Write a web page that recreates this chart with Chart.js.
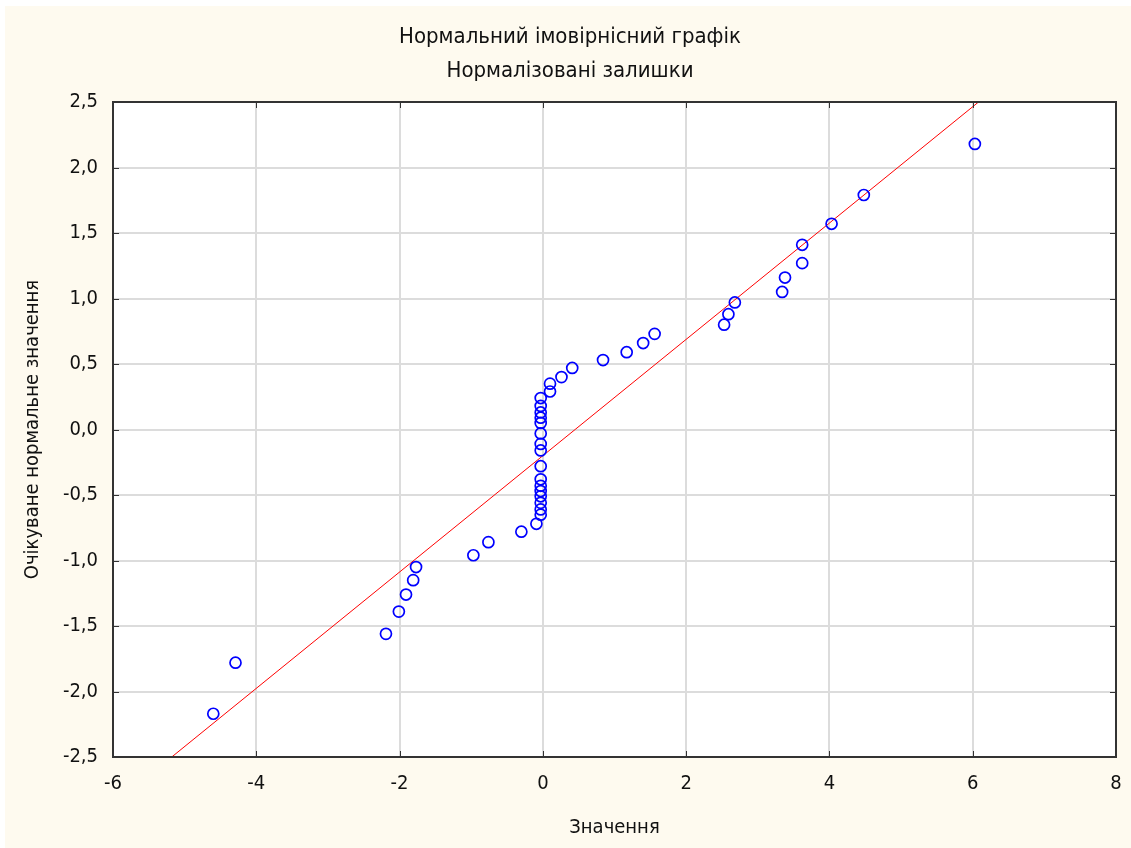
<!DOCTYPE html>
<html>
<head>
<meta charset="utf-8">
<title>Нормальний імовірнісний графік</title>
<script src="https://cdn.jsdelivr.net/npm/chart.js@4"></script>
<style>
    html, body { margin: 0; padding: 0; background: #ffffff; }
    canvas { display: block; }
</style>
</head>
<body>
<canvas id="chart" width="1131" height="848"></canvas>
<script>
// Data
const titleLines = ['Нормальний імовірнісний графік', 'Нормалізовані залишки'];
const xAxisTitle = 'Значення';
const yAxisTitle = 'Очікуване нормальне значення';

// Residual values (x) and expected normal values (y)
const residuals = [
    -4.60, -4.29, -2.19, -2.01, -1.91, -1.81, -1.77, -0.97, -0.76, -0.30, -0.09,
    -0.03, -0.03, -0.03, -0.03, -0.03, -0.03, -0.03, -0.03,
    -0.03, -0.03, -0.03, -0.03, -0.03, -0.03, -0.03, -0.03,
    0.10, 0.10, 0.26, 0.41, 0.84, 1.17, 1.40, 1.56, 2.53, 2.59, 2.68,
    3.34, 3.38, 3.62, 3.62, 4.03, 4.48, 6.03
];
const expectedNormal = [
    -2.17, -1.78, -1.56, -1.39, -1.26, -1.15, -1.05, -0.96, -0.86, -0.78, -0.72,
    -0.65, -0.61, -0.56, -0.51, -0.47, -0.43, -0.38, -0.28,
    -0.16, -0.11, -0.03, 0.05, 0.09, 0.13, 0.18, 0.24,
    0.29, 0.35, 0.40, 0.47, 0.53, 0.59, 0.66, 0.73, 0.80, 0.88, 0.97,
    1.05, 1.16, 1.27, 1.41, 1.57, 1.79, 2.18
];

// Reference line y = slope * x + intercept
const fitSlope = 0.444;
const fitIntercept = -0.20;

// Axis ranges
const xMin = -6, xMax = 8, xStep = 2;
const yMin = -2.5, yMax = 2.5, yStep = 0.5;

const fontFamily = "'Liberation Sans Narrow', 'DejaVu Sans Condensed', 'Liberation Sans', Arial, sans-serif";

// Format number with comma decimal
function formatComma(value, digits) {
    return value.toFixed(digits).replace('.', ',');
}

// Build point and line data
const points = residuals.map((x, i) => ({ x: x, y: expectedNormal[i] }));
const fitLine = [
    { x: (yMin - fitIntercept) / fitSlope, y: yMin },
    { x: (yMax - fitIntercept) / fitSlope, y: yMax }
];

// Background, frame, inward ticks and titles
const decorPlugin = {
    id: 'decor',
    beforeDraw(chart) {
        const ctx = chart.ctx;
        const area = chart.chartArea;
        ctx.save();
        ctx.fillStyle = '#ffffff';
        ctx.fillRect(0, 0, chart.width, chart.height);
        ctx.fillStyle = '#fefaef';
        ctx.fillRect(5, 6, chart.width - 5, chart.height - 6);
        ctx.fillStyle = '#ffffff';
        ctx.fillRect(area.left, area.top, area.right - area.left, area.bottom - area.top);
        ctx.restore();
    },
    afterDatasetsDraw(chart) {
        const ctx = chart.ctx;
        const area = chart.chartArea;
        const xs = chart.scales.x;
        const ys = chart.scales.y;
        ctx.save();
        ctx.strokeStyle = '#333333';
        ctx.lineWidth = 1;
        ctx.beginPath();
        xs.ticks.forEach(t => {
            const px = Math.round(xs.getPixelForValue(t.value)) + 0.5;
            ctx.moveTo(px, area.bottom);
            ctx.lineTo(px, area.bottom - 6);
            ctx.moveTo(px, area.top);
            ctx.lineTo(px, area.top + 6);
        });
        ys.ticks.forEach(t => {
            const py = Math.round(ys.getPixelForValue(t.value)) + 0.5;
            ctx.moveTo(area.left, py);
            ctx.lineTo(area.left + 6, py);
            ctx.moveTo(area.right, py);
            ctx.lineTo(area.right - 6, py);
        });
        ctx.stroke();
        ctx.lineWidth = 2;
        ctx.strokeRect(area.left, area.top, area.right - area.left, area.bottom - area.top);

        // Chart titles
        ctx.fillStyle = '#111111';
        ctx.font = '22px ' + fontFamily;
        ctx.textAlign = 'center';
        ctx.textBaseline = 'alphabetic';
        ctx.fillText(titleLines[0], 570, 43);
        ctx.fillText(titleLines[1], 570, 77);
        ctx.restore();
    }
};

const ctx = document.getElementById('chart').getContext('2d');
new Chart(ctx, {
    type: 'scatter',
    data: {
        datasets: [
            {
                label: 'Залишки',
                data: points,
                showLine: false,
                pointStyle: 'circle',
                pointRadius: 5.5,
                pointBorderWidth: 1.7,
                borderColor: '#0000ff',
                backgroundColor: 'rgba(0,0,0,0)',
                pointBackgroundColor: 'rgba(0,0,0,0)'
            },
            {
                label: 'Лінія',
                type: 'line',
                data: fitLine,
                borderColor: '#ff0000',
                borderWidth: 1,
                pointRadius: 0,
                fill: false,
                clip: 0
            }
        ]
    },
    options: {
        responsive: false,
        animation: false,
        devicePixelRatio: 1,
        layout: {
            padding: { top: 102, left: 0, right: 15, bottom: 0 }
        },
        plugins: {
            legend: { display: false },
            tooltip: { enabled: false },
            title: { display: false }
        },
        scales: {
            x: {
                type: 'linear',
                min: xMin,
                max: xMax,
                afterFit: function(scale) {
                    scale.height = 91;
                    scale.paddingRight = 0;
                    scale.paddingLeft = 0;
                },
                ticks: {
                    stepSize: xStep,
                    padding: 15,
                    color: '#111111',
                    font: { family: fontFamily, size: 20 },
                    callback: function(value) { return String(value); }
                },
                grid: { color: '#dcdcdc', lineWidth: 2, drawTicks: false },
                border: { display: false },
                title: {
                    display: true,
                    text: xAxisTitle,
                    color: '#111111',
                    font: { family: fontFamily, size: 20 },
                    padding: { top: 0, bottom: 8 }
                }
            },
            y: {
                type: 'linear',
                min: yMin,
                max: yMax,
                afterFit: function(scale) { scale.width = 113; },
                ticks: {
                    stepSize: yStep,
                    padding: 15,
                    color: '#111111',
                    font: { family: fontFamily, size: 20 },
                    callback: function(value) { return formatComma(value, 1); }
                },
                grid: { color: '#dcdcdc', lineWidth: 2, drawTicks: false },
                border: { display: false },
                title: {
                    display: true,
                    text: yAxisTitle,
                    color: '#111111',
                    font: { family: fontFamily, size: 20 },
                    padding: { top: 21, bottom: 0 }
                }
            }
        }
    },
    plugins: [decorPlugin]
});
</script>
</body>
</html>
